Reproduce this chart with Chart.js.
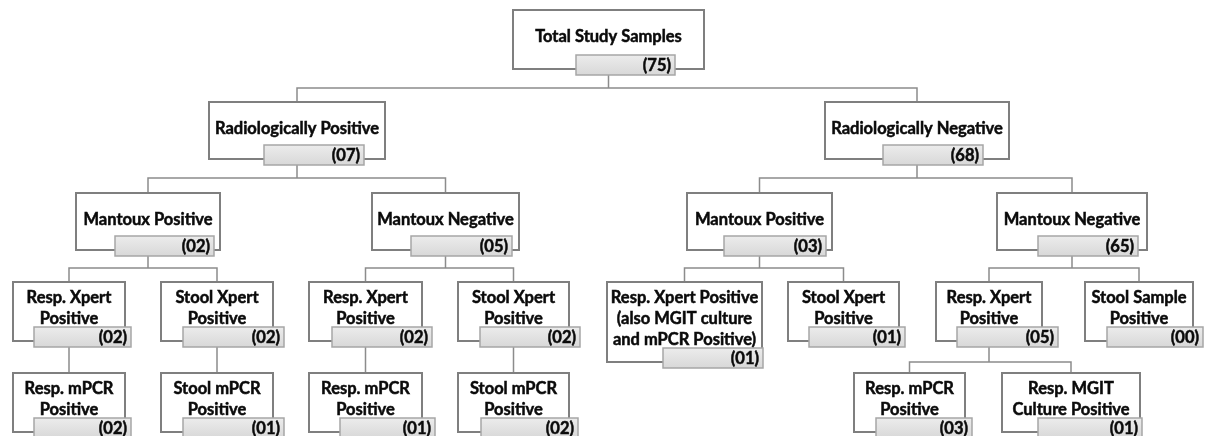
<!DOCTYPE html>
<html lang="en">
<head>
<meta charset="UTF-8">
<title>Study sample flow</title>
<script src="https://cdn.jsdelivr.net/npm/chart.js"></script>
<style>
    html, body { margin: 0; padding: 0; background: #fff; }
    #wrap { width: 1208px; height: 436px; }
</style>
</head>
<body>
<div id="wrap"><canvas id="tree" width="1208" height="436"></canvas></div>
<script>
// --- data: one entry per box in the tree ---
const nodeLabels = [
    ["Total Study Samples"],
    ["Radiologically Positive"],
    ["Radiologically Negative"],
    ["Mantoux Positive"],
    ["Mantoux Negative"],
    ["Mantoux Positive"],
    ["Mantoux Negative"],
    ["Resp. Xpert", "Positive"],
    ["Stool Xpert", "Positive"],
    ["Resp. Xpert", "Positive"],
    ["Stool Xpert", "Positive"],
    ["Resp. Xpert Positive", "(also MGIT culture", "and mPCR Positive)"],
    ["Stool Xpert", "Positive"],
    ["Resp. Xpert", "Positive"],
    ["Stool Sample", "Positive"],
    ["Resp. mPCR", "Positive"],
    ["Stool mPCR", "Positive"],
    ["Resp. mPCR", "Positive"],
    ["Stool mPCR", "Positive"],
    ["Resp. mPCR", "Positive"],
    ["Resp. MGIT", "Culture Positive"]
];
const nodeCounts = [75, 7, 68, 2, 5, 3, 65, 2, 2, 2, 2, 1, 1, 5, 0, 2, 1, 1, 2, 3, 1];
const nodeParents = [-1, 0, 0, 1, 1, 2, 2, 3, 3, 4, 4, 5, 5, 6, 6, 7, 8, 9, 10, 13, 13];

// --- layout (in chart units, converted by the scales) ---
const nodeLevel = [0, 1, 1, 2, 2, 2, 2, 3, 3, 3, 3, 3, 3, 3, 3, 4, 4, 4, 4, 4, 4];
const boxLeft   = [513, 209, 825, 76, 372, 687, 997, 13, 161, 309, 458, 607, 788, 936, 1085, 13, 161, 309, 458, 854, 1002];
const boxRight  = [704, 385, 1009, 220, 519, 832, 1147, 125, 273, 422, 569, 762, 899, 1042, 1193, 125, 273, 422, 569, 965, 1140];
const tagLeft   = [576, 264, 883, 115, 411, 724, 1038, 34, 183, 332, 480, 663, 809, 957, 1107, 34, 183, 340, 481, 876, 1038];
const tagRight  = [675, 364, 983, 214, 512, 826, 1138, 131, 284, 432, 580, 763, 905, 1058, 1203, 131, 284, 435, 578, 972, 1142];
const levelTop    = [10, 102, 193, 282, 373];
const levelBottom = [69, 159, 250, 341, 432];
const busY        = [88, 178, 268, 362];
const lineStep = 21;
const labelFont = 'bold 16.5px Lato, "Open Sans", sans-serif';

function bottomOf(i) {
    return levelBottom[nodeLevel[i]] + lineStep * Math.max(0, nodeLabels[i].length - 2);
}
function centerOf(i) {
    return (boxLeft[i] + boxRight[i]) / 2;
}

// connectors as line datasets
const connectorStyle = {
    type: 'line', borderColor: '#8c8c8c', borderWidth: 1.5,
    pointRadius: 0, fill: false, tension: 0
};
const datasets = [];
nodeLabels.forEach((_, p) => {
    const kids = nodeParents.map((q, i) => q === p ? i : -1).filter(i => i >= 0);
    if (!kids.length) return;
    const px = centerOf(p);
    const from = bottomOf(p) + 6;
    if (kids.length === 1) {
        const c = kids[0];
        datasets.push(Object.assign({ data: [{ x: px, y: from }, { x: px, y: levelTop[nodeLevel[c]] }] }, connectorStyle));
        return;
    }
    const by = busY[nodeLevel[p]];
    datasets.push(Object.assign({ data: [{ x: px, y: from }, { x: px, y: by }] }, connectorStyle));
    const a = kids[0], b = kids[kids.length - 1];
    datasets.push(Object.assign({ data: [
        { x: centerOf(a), y: levelTop[nodeLevel[a]] },
        { x: centerOf(a), y: by },
        { x: centerOf(b), y: by },
        { x: centerOf(b), y: levelTop[nodeLevel[b]] }
    ] }, connectorStyle));
});

function heavyText(ctx, t, x, y) {
    ctx.strokeText(t, x, y);
    ctx.fillText(t, x, y);
}

const boxPlugin = {
    id: 'boxes',
    afterDatasetsDraw(chart) {
        const ctx = chart.ctx;
        const xs = chart.scales.x, ys = chart.scales.y;
        ctx.save();
        nodeLabels.forEach((lines, i) => {
            const lv = nodeLevel[i];
            const x0 = xs.getPixelForValue(boxLeft[i]);
            const x1 = xs.getPixelForValue(boxRight[i]);
            const y0 = ys.getPixelForValue(levelTop[lv]);
            const y1 = ys.getPixelForValue(bottomOf(i));

            ctx.fillStyle = '#fff';
            ctx.fillRect(x0, y0, x1 - x0, y1 - y0);
            ctx.strokeStyle = '#7f7f7f';
            ctx.lineWidth = 2;
            ctx.strokeRect(x0, y0, x1 - x0, y1 - y0);

            ctx.fillStyle = '#0a0a0a';
            ctx.strokeStyle = '#0a0a0a';
            ctx.lineWidth = 0.5;
            ctx.font = labelFont;
            ctx.textAlign = 'center';
            ctx.textBaseline = 'middle';
            const cx = (x0 + x1) / 2;
            lines.forEach((t, k) => {
                const ty = lines.length === 1 ? levelTop[lv] + 27 : levelTop[lv] + 16 + lineStep * k;
                heavyText(ctx, t, cx, ys.getPixelForValue(ty));
            });

            // count tag
            const g0 = xs.getPixelForValue(tagLeft[i]);
            const g1 = xs.getPixelForValue(tagRight[i]);
            const gy0 = ys.getPixelForValue(bottomOf(i) - 14);
            const gy1 = ys.getPixelForValue(bottomOf(i) + 6);
            const grad = ctx.createLinearGradient(0, gy0, 0, gy1);
            grad.addColorStop(0, '#ececec');
            grad.addColorStop(1, '#d8d8d8');
            ctx.fillStyle = grad;
            ctx.fillRect(g0, gy0, g1 - g0, gy1 - gy0);
            ctx.strokeStyle = '#a6a6a6';
            ctx.lineWidth = 1.5;
            ctx.strokeRect(g0, gy0, g1 - g0, gy1 - gy0);

            ctx.fillStyle = '#0a0a0a';
            ctx.strokeStyle = '#0a0a0a';
            ctx.lineWidth = 0.5;
            ctx.textAlign = 'right';
            heavyText(ctx, '(' + String(nodeCounts[i]).padStart(2, '0') + ')', g1 - 4, (gy0 + gy1) / 2 + 0.5);
        });
        ctx.restore();
    }
};

new Chart(document.getElementById('tree').getContext('2d'), {
    type: 'scatter',
    data: { datasets: datasets },
    options: {
        responsive: false,
        animation: false,
        events: [],
        layout: { padding: 0 },
        scales: {
            x: { type: 'linear', min: 0, max: 1208, display: false },
            y: { type: 'linear', min: 0, max: 436, reverse: true, display: false }
        },
        plugins: { legend: { display: false }, tooltip: { enabled: false } }
    },
    plugins: [boxPlugin]
});
</script>
</body>
</html>
